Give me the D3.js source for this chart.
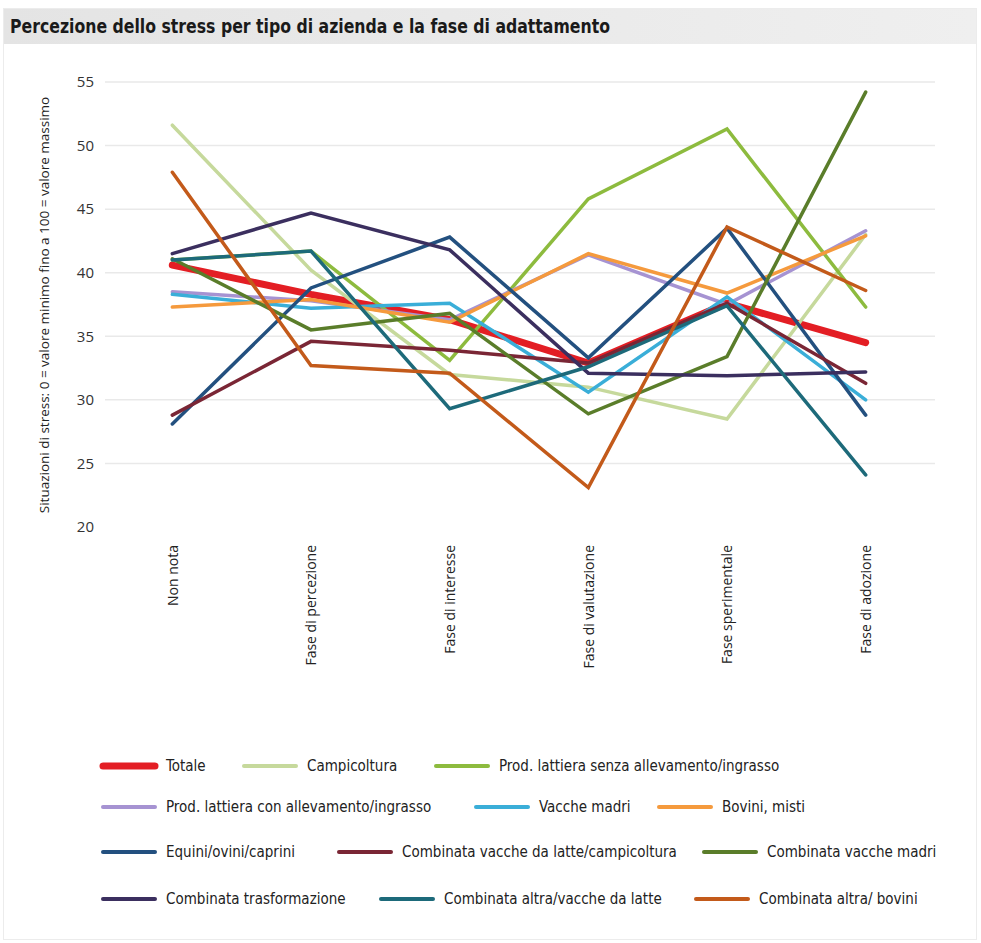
<!DOCTYPE html>
<html>
<head>
<meta charset="utf-8">
<script src="https://cdn.jsdelivr.net/npm/d3@7"></script>
<style>
  html, body { margin: 0; padding: 0; background: #ffffff; }
  svg { display: block; }
  .cond { font-family: "DejaVu Sans Condensed", "DejaVu Sans", sans-serif; }
  .sans { font-family: "Open Sans", "Noto Sans", sans-serif; }
</style>
</head>
<body>
<svg id="chart" width="981" height="943"></svg>
<script>
// Stages of adaptation (x axis)
const categories = ["Non nota", "Fase di percezione", "Fase di interesse",
                    "Fase di valutazione", "Fase sperimentale", "Fase di adozione"];

// Y axis ticks
const yTicks = [20, 25, 30, 35, 40, 45, 50, 55];

// Stress perception by farm type, one array per series
const totale          = [40.6, 38.3, 36.3, 32.9, 37.6, 34.5];
const campicoltura    = [51.6, 40.2, 32.0, 31.0, 28.5, 43.0];
const lattSenza       = [41.0, 41.7, 33.1, 45.8, 51.3, 37.3];
const lattCon         = [38.5, 37.8, 36.3, 41.4, 37.5, 43.3];
const vaccheMadri     = [38.3, 37.2, 37.6, 30.6, 38.1, 30.0];
const boviniMisti     = [37.3, 37.9, 36.1, 41.5, 38.4, 42.9];
const equini          = [28.1, 38.8, 42.8, 33.3, 43.5, 28.8];
const combLatteCampi  = [28.8, 34.6, 33.9, 32.9, 37.6, 31.3];
const combVaccheMadri = [41.1, 35.5, 36.8, 28.9, 33.4, 54.2];
const combTrasf       = [41.5, 44.7, 41.8, 32.1, 31.9, 32.2];
const combAltraLatte  = [41.0, 41.7, 29.3, 32.6, 37.4, 24.1];
const combAltraBovini = [47.9, 32.7, 32.1, 23.1, 43.6, 38.6];

const seriesNames = [
  "Totale", "Campicoltura", "Prod. lattiera senza allevamento/ingrasso",
  "Prod. lattiera con allevamento/ingrasso", "Vacche madri", "Bovini, misti",
  "Equini/ovini/caprini", "Combinata vacche da latte/campicoltura", "Combinata vacche madri",
  "Combinata trasformazione", "Combinata altra/vacche da latte", "Combinata altra/ bovini"
];
const seriesValues = [
  totale, campicoltura, lattSenza, lattCon, vaccheMadri, boviniMisti,
  equini, combLatteCampi, combVaccheMadri, combTrasf, combAltraLatte, combAltraBovini
];
const seriesColors = [
  "#e31e24", "#c6d99c", "#8dbb3e", "#a693d2", "#3aaed8", "#f59a3d",
  "#23507f", "#7a2635", "#5a7d2a", "#3b2f5f", "#1d6a7a", "#c35a1a"
];

const series = seriesNames.map((name, i) => ({
  name, color: seriesColors[i], values: seriesValues[i], width: i === 0 ? 7 : 3.5
}));

const svg = d3.select("#chart");

// Outer frame and title band
svg.append("rect").attr("x", 3.5).attr("y", 8.5).attr("width", 973).attr("height", 931)
  .attr("fill", "#ffffff").attr("stroke", "#ececec");
const grad = svg.append("defs").append("linearGradient").attr("id", "titleBg")
  .attr("x1", "0%").attr("x2", "100%");
grad.append("stop").attr("offset", "0%").attr("stop-color", "#e4e4e4");
grad.append("stop").attr("offset", "100%").attr("stop-color", "#efefef");
svg.append("rect").attr("x", 4).attr("y", 9).attr("width", 972).attr("height", 35)
  .attr("fill", "url(#titleBg)");
svg.append("text").attr("class", "cond")
  .attr("x", 10).attr("y", 33)
  .attr("font-size", 20).attr("font-weight", "bold").attr("fill", "#1a1a1a")
  .attr("textLength", 600).attr("lengthAdjust", "spacingAndGlyphs")
  .text("Percezione dello stress per tipo di azienda e la fase di adattamento");

// Scales
const x = d3.scalePoint().domain(categories).range([103, 935]).padding(0.5);
const y = d3.scaleLinear().domain([20, 55]).range([527, 82]);

// Gridlines
svg.append("g")
  .selectAll("line").data(yTicks.filter(t => t > 20)).join("line")
  .attr("x1", 105).attr("x2", 935)
  .attr("y1", d => y(d)).attr("y2", d => y(d))
  .attr("stroke", "#e9e9e9").attr("stroke-width", 1.5);

// Y axis
const yAxis = svg.append("g").attr("transform", "translate(94,0)")
  .call(d3.axisLeft(y).tickValues(yTicks).tickSize(0).tickPadding(0));
yAxis.select(".domain").remove();
yAxis.selectAll("text").attr("class", "sans").attr("font-size", 15).attr("fill", "#333")
  .attr("text-anchor", "end");

svg.append("text").attr("class", "sans")
  .attr("transform", "translate(49,305) rotate(-90)")
  .attr("text-anchor", "middle").attr("font-size", 13.5).attr("fill", "#222")
  .text("Situazioni di stress: 0 = valore minimo fino a 100 = valore massimo");

// X axis labels, rotated
const xAxis = svg.append("g").attr("transform", "translate(0,545)")
  .call(d3.axisBottom(x).tickSize(0).tickPadding(0));
xAxis.select(".domain").remove();
xAxis.selectAll("text").attr("class", "sans").attr("font-size", 14).attr("fill", "#222")
  .attr("text-anchor", "end").attr("dy", "0.35em")
  .attr("transform", "rotate(-90)").attr("x", 0).attr("y", 0);

// Lines
const line = d3.line().x((d, i) => x(categories[i])).y(d => y(d));
svg.append("g").selectAll("path").data(series).join("path")
  .attr("d", d => line(d.values))
  .attr("fill", "none")
  .attr("stroke", d => d.color)
  .attr("stroke-width", d => d.width)
  .attr("stroke-linejoin", "miter")
  .attr("stroke-linecap", "round");

// Legend: four rows of three entries
const legendRows = [766, 807, 852, 899];
const legendCols = [
  [101, 242, 434],
  [101, 474, 657],
  [101, 337, 702],
  [101, 379, 694]
];
const legend = svg.append("g");
series.forEach((s, i) => {
  const r = Math.floor(i / 3), c = i % 3;
  const lx = legendCols[r][c], ly = legendRows[r];
  legend.append("line")
    .attr("x1", lx + 2).attr("x2", lx + 54).attr("y1", ly).attr("y2", ly)
    .attr("stroke", s.color).attr("stroke-width", i === 0 ? 7 : 4)
    .attr("stroke-linecap", "round");
  legend.append("text").attr("class", "cond")
    .attr("x", lx + 65).attr("y", ly).attr("dy", "0.35em")
    .attr("font-size", 15).attr("fill", "#222")
    .text(s.name);
});
</script>
</body>
</html>
